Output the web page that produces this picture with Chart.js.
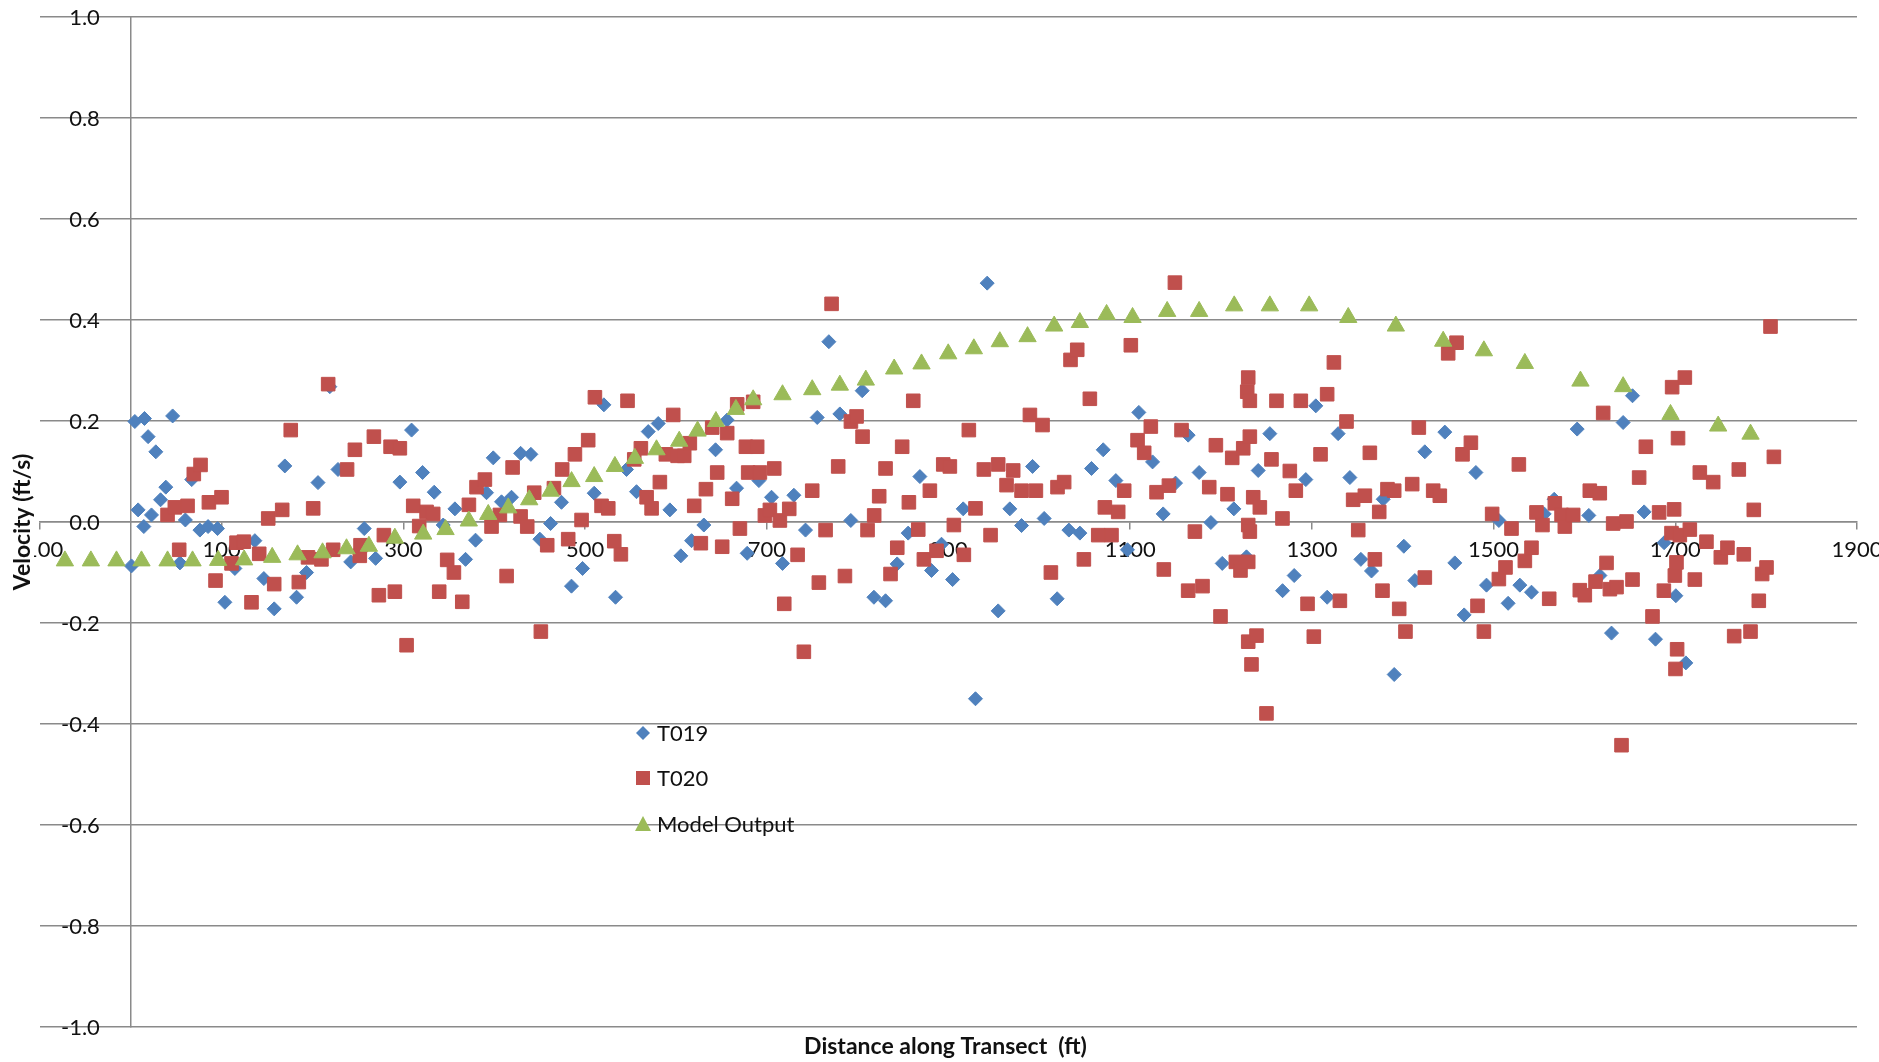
<!DOCTYPE html>
<html>
<head>
<meta charset="utf-8">
<title>Velocity along transect</title>
<script src="https://cdn.jsdelivr.net/npm/chart.js@4.4.1/dist/chart.umd.min.js"></script>
<style>
  html, body { margin: 0; padding: 0; background: #fff; }
  #wrap { width: 1879px; height: 1062px; }
</style>
</head>
<body>
<div id="wrap"><canvas id="chart" width="1879" height="1062"></canvas></div>
<script>
// values
const t019Dist = [0.7, 4.4, 8, 14.3, 15, 19, 22.7, 27.5, 32.7, 38.5, 46, 54, 60, 67, 76, 85, 95.4, 103.5, 114.5, 136.5,
  146.4, 157.8, 169.5, 182.4, 193.4, 206, 219, 228, 242, 256.9, 269.4, 296.1, 309, 321.1, 333.9, 343.8, 356.7, 368.4,
  379.4, 391.5, 398.9, 408, 419, 429, 440.3, 450.2, 462, 474, 485, 497.2, 510, 520.7, 533.5, 545.6, 556.6, 569.5,
  580.5, 593.3, 605.4, 617.2, 630.7, 643.6, 656.4, 666.7, 678.4, 691.3, 705.2, 717.3, 729.8, 742.6, 755.5, 768.3,
  780.4, 792.5, 805, 817.9, 830.7, 843.5, 855.6, 868.5, 881.3, 892.3, 904.5, 916.2, 929.7, 942.6, 954.7, 967.5,
  980.4, 992.5, 1005.3, 1019.6, 1032.5, 1044.6, 1057.4, 1070.3, 1084.2, 1097, 1109.5, 1124.6, 1136.3, 1149.9,
  1163.8, 1175.9, 1188.8, 1201.3, 1214.1, 1228, 1240.9, 1253.7, 1267.7, 1280.5, 1293.3, 1304.3, 1316.8, 1328.9,
  1341.8, 1353.9, 1365.6, 1378.5, 1390.6, 1401.2, 1413.3, 1424.3, 1446.3, 1457.3, 1467.6, 1480.5, 1492.2, 1505.8,
  1516, 1528.9, 1541.7, 1555.7, 1566.7, 1592, 1604.8, 1617, 1629.8, 1642.6, 1652.9, 1665.7, 1678.2, 1687.7,
  1700.6, 1711.6];
const t019Vel = [-0.087, 0.199, 0.024, -0.009, 0.205, 0.169, 0.014, 0.139, 0.044, 0.069, 0.21, -0.081, 0.004, 0.084,
  -0.016, -0.009, -0.013, -0.159, -0.092, -0.037, -0.112, -0.172, 0.111, -0.149, -0.1, 0.078, 0.268, 0.104, -0.079,
  -0.013, -0.072, 0.079, 0.182, 0.098, 0.059, -0.006, 0.026, -0.074, -0.036, 0.058, 0.127, 0.04, 0.049, 0.136,
  0.134, -0.034, -0.003, 0.039, -0.127, -0.092, 0.057, 0.232, -0.149, 0.104, 0.06, 0.179, 0.195, 0.024, -0.067,
  -0.037, -0.006, 0.143, 0.202, 0.067, -0.062, 0.082, 0.049, -0.082, 0.053, -0.016, 0.207, 0.357, 0.214, 0.003,
  0.26, -0.149, -0.156, -0.083, -0.022, 0.09, -0.096, -0.044, -0.114, 0.026, -0.35, 0.473, -0.176, 0.026, -0.007,
  0.11, 0.007, -0.152, -0.016, -0.022, 0.106, 0.143, 0.082, -0.055, 0.217, 0.119, 0.016, 0.077, 0.172, 0.098,
  -0.001, -0.082, 0.026, -0.069, 0.102, 0.175, -0.136, -0.106, 0.084, 0.23, -0.149, 0.175, 0.088, -0.074, -0.097,
  0.045, -0.302, -0.048, -0.116, 0.139, 0.178, -0.081, -0.184, 0.098, -0.125, 0.003, -0.161, -0.125, -0.139,
  0.016, 0.045, 0.184, 0.013, -0.106, -0.22, 0.197, 0.25, 0.02, -0.232, -0.041, -0.146, -0.279];

const t020Dist = [40.4, 48.4, 53.2, 62.4, 69.3, 76.7, 85.9, 93.2, 99.8, 110.8, 116.3, 124.4, 132.8, 141.3, 151.2,
  157.8, 166.6, 176, 184.9, 195, 200.7, 209.8, 217.2, 222.7, 238, 246.6, 252, 252.8, 267.5, 273, 278.5, 285.9,
  290.6, 296.1, 303.5, 310.8, 317.4, 325.5, 332.8, 339.4, 348.2, 355.6, 364.8, 372.1, 380.5, 389.7, 397, 406.2,
  413.6, 420.2, 429, 436.3, 444, 451.3, 458.3, 465.7, 474.8, 481.4, 488.8, 496.1, 503.4, 510.8, 518.1, 525.5,
  532.1, 539.4, 546.7, 554.1, 561.4, 567.7, 573.2, 582.3, 588.9, 597, 601.8, 609.1, 615.3, 620.1, 627.4, 633,
  639.9, 645.4, 650.9, 656.4, 661.9, 667.4, 670.4, 677, 679.5, 685, 689.4, 692.4, 697.9, 703.4, 708.2, 714.4,
  719.2, 724.7, 733.9, 740.8, 750, 757.3, 764.7, 771.3, 778.6, 786, 792.6, 798.8, 805.4, 810.9, 818.2, 823.7,
  830.7, 836.2, 843.6, 849, 856.4, 861.2, 866.7, 872.9, 879.5, 886.8, 894.2, 901.5, 905.9, 916.9, 922.4, 929.7,
  938.9, 946.3, 954.7, 963.9, 971.2, 980.4, 989.6, 996.2, 1003.5, 1012.7, 1020, 1027.3, 1034.3, 1041.7, 1049,
  1055.6, 1064.8, 1072.1, 1079.4, 1086.8, 1093.4, 1100.7, 1108.1, 1115.4, 1122.7, 1129, 1137, 1142.6, 1149.2,
  1156.5, 1163.8, 1171.2, 1179.6, 1187, 1194.3, 1199.4, 1207.1, 1212.3, 1216.3, 1221.4, 1224.4, 1228.8, 1229.9,
  1229.9, 1229.9, 1229.9, 1231.7, 1231.7, 1231.7, 1233.5, 1235.4, 1239, 1242.7, 1250, 1255.5, 1261, 1267.6,
  1275.7, 1282.3, 1287.8, 1295.2, 1302.1, 1309.5, 1316.8, 1324.2, 1330.8, 1338.1, 1345.4, 1351, 1358.3, 1363.8,
  1369.3, 1374.1, 1377.7, 1383.2, 1390.6, 1396.1, 1403, 1410.4, 1417.7, 1424.3, 1433.5, 1440.8, 1450, 1459.2,
  1465.8, 1475, 1482.3, 1489.3, 1498.4, 1505.8, 1513.1, 1519.7, 1527.8, 1534.4, 1541.7, 1547.2, 1553.8, 1561.2,
  1567.4, 1574.8, 1578.4, 1587.6, 1594.9, 1600.4, 1605.9, 1612.2, 1616.9, 1620.6, 1624.3, 1628, 1631.6, 1635.3,
  1640.8, 1646.3, 1652.9, 1660.2, 1667.6, 1674.9, 1682.2, 1687.4, 1695.8, 1696.5, 1698.7, 1699.5, 1700.2, 1701.3,
  1702, 1703, 1705, 1710.5, 1716, 1721.5, 1727, 1734.3, 1741.7, 1750.1, 1757.4, 1764.8, 1769.9, 1775.4, 1782.8,
  1786.4, 1791.9, 1795.6, 1800.4, 1804.8, 1808.5];
const t020Vel = [0.014, 0.029, -0.055, 0.032, 0.095, 0.113, 0.039, -0.116, 0.049, -0.082, -0.041, -0.039, -0.159,
  -0.063, 0.007, -0.123, 0.024, 0.182, -0.119, -0.07, 0.027, -0.074, 0.273, -0.055, 0.104, 0.143, -0.067, -0.046,
  0.169, -0.145, -0.026, 0.149, -0.138, 0.146, -0.244, 0.032, -0.008, 0.02, 0.016, -0.138, -0.075, -0.1, -0.158,
  0.034, 0.069, 0.084, -0.009, 0.014, -0.107, 0.108, 0.011, -0.009, 0.058, -0.217, -0.046, 0.067, 0.104, -0.034,
  0.134, 0.004, 0.162, 0.247, 0.032, 0.027, -0.038, -0.064, 0.24, 0.124, 0.146, 0.049, 0.027, 0.079, 0.134, 0.212,
  0.131, 0.131, 0.156, 0.032, -0.042, 0.065, 0.187, 0.098, -0.049, 0.176, 0.046, 0.233, -0.013, 0.149, 0.098,
  0.238, 0.149, 0.098, 0.013, 0.024, 0.106, 0.003, -0.162, 0.026, -0.065, -0.257, 0.062, -0.12, -0.016, 0.432,
  0.11, -0.107, 0.199, 0.209, 0.169, -0.016, 0.013, 0.051, 0.106, -0.103, -0.051, 0.149, 0.039, 0.24, -0.015,
  -0.074, 0.062, -0.057, 0.114, 0.11, -0.006, -0.065, 0.182, 0.027, 0.104, -0.026, 0.114, 0.073, 0.102, 0.062,
  0.212, 0.062, 0.192, -0.1, 0.069, 0.079, 0.321, 0.341, -0.074, 0.244, -0.026, 0.029, -0.026, 0.02, 0.062, 0.35,
  0.162, 0.137, 0.189, 0.059, -0.094, 0.072, 0.474, 0.182, -0.136, -0.019, -0.127, 0.069, 0.152, -0.187, 0.055,
  0.127, -0.079, -0.096, 0.146, 0.258, 0.286, -0.079, -0.006, -0.237, -0.019, 0.169, 0.24, -0.282, 0.049, -0.225,
  0.029, -0.379, 0.124, 0.24, 0.007, 0.101, 0.062, 0.24, -0.162, -0.227, 0.134, 0.253, 0.316, -0.156, 0.199,
  0.044, -0.016, 0.052, 0.137, -0.074, 0.02, -0.136, 0.065, 0.062, -0.172, -0.217, 0.075, 0.187, -0.11, 0.062,
  0.052, 0.334, 0.355, 0.134, 0.157, -0.166, -0.217, 0.016, -0.113, -0.09, -0.013, 0.114, -0.077, -0.051, 0.019,
  -0.006, -0.152, 0.037, 0.014, -0.009, 0.014, -0.135, -0.145, 0.062, -0.118, 0.057, 0.216, -0.081, -0.133,
  -0.003, -0.129, -0.442, 0.001, -0.114, 0.088, 0.149, -0.187, 0.019, -0.136, -0.022, 0.267, 0.025, -0.106,
  -0.291, -0.08, -0.252, 0.166, -0.026, 0.286, -0.015, -0.114, 0.098, -0.039, 0.079, -0.07, -0.051, -0.226, 0.104,
  -0.064, -0.217, 0.024, -0.156, -0.103, -0.09, 0.387, 0.129];

const modelDist = [-72.6, -44, -15.8, 11.7, 40.4, 67.9, 96.1, 124.7, 155.6, 183.5, 211, 237.4, 262, 290.6, 321.8,
  346.4, 372, 393.4, 415.4, 438.5, 462, 485.1, 510, 532.8, 554.8, 578.6, 603.6, 623.8, 644, 666, 685, 717.3, 750,
  780.4, 809, 840.2, 870.3, 899.7, 927.9, 956.5, 987, 1016.3, 1044.6, 1074, 1102.6, 1140.7, 1175.9, 1214.5,
  1253.7, 1297, 1340, 1392.4, 1444.5, 1489.3, 1534.4, 1595.6, 1642.6, 1694.7, 1747.2, 1782.8];
const modelVel = [-0.077, -0.077, -0.077, -0.077, -0.077, -0.077, -0.076, -0.075, -0.07, -0.065, -0.061, -0.053,
  -0.048, -0.032, -0.024, -0.015, 0.002, 0.015, 0.028, 0.044, 0.061, 0.08, 0.09, 0.11, 0.126, 0.143, 0.16, 0.18,
  0.199, 0.223, 0.242, 0.252, 0.262, 0.271, 0.281, 0.303, 0.313, 0.333, 0.343, 0.357, 0.367, 0.388, 0.395, 0.411,
  0.405, 0.417, 0.417, 0.428, 0.428, 0.428, 0.405, 0.388, 0.358, 0.339, 0.314, 0.279, 0.268, 0.213, 0.19, 0.174];

const seriesNames = ['T019', 'T020', 'Model Output'];
const xTitle = 'Distance along Transect  (ft)';
const yTitle = 'Velocity (ft/s)';

const toPoints = (xs, ys) => xs.map((x, i) => ({ x: x, y: ys[i] }));

const FONT = 'Lato, "Open Sans", sans-serif';
const gridColor = '#8a8a8a';
const textColor = '#111';

Chart.defaults.font.family = FONT;
Chart.defaults.color = textColor;

// scales placed at x=0 / y=0 should not eat into the layout
const noPad = (scale) => {
  scale.paddingLeft = 0;
  scale.paddingRight = 0;
  scale.paddingTop = 0;
  scale.paddingBottom = 0;
};

// y labels, legend and axis titles drawn by hand (legend sits inside the plot)
const extrasPlugin = {
  id: 'extras',
  afterDraw(chart) {
    const ctx = chart.ctx;
    const xs = chart.scales.x;
    const ys = chart.scales.y;
    ctx.save();

    // y tick labels, right aligned a bit left of the axis at x = 0
    ctx.font = '22px ' + FONT;
    ctx.fillStyle = textColor;
    ctx.textAlign = 'right';
    ctx.textBaseline = 'middle';
    const labelRight = xs.getPixelForValue(0) - 31;
    ys.ticks.forEach((t) => {
      ctx.fillText(Number(t.value).toFixed(1), labelRight, ys.getPixelForValue(t.value) + 1);
    });

    // y title, white box hides part of the -100 label like the original
    ctx.font = 'bold 23px ' + FONT;
    const yw = ctx.measureText(yTitle).width;
    const midY = (chart.chartArea.top + chart.chartArea.bottom) / 2;
    ctx.fillStyle = '#fff';
    ctx.fillRect(11, midY - yw / 2 - 2, 23, yw + 4);
    ctx.fillStyle = textColor;
    ctx.translate(23, midY);
    ctx.rotate(-Math.PI / 2);
    ctx.textAlign = 'center';
    ctx.textBaseline = 'middle';
    ctx.fillText(yTitle, 0, 0);
    ctx.setTransform(1, 0, 0, 1, 0, 0);

    const midX = (chart.chartArea.left + chart.chartArea.right) / 2;
    ctx.fillText(xTitle, midX - 3, 1047);

    // legend
    const lx = 643;
    const rows = [733, 778, 824];
    ctx.font = '22px ' + FONT;
    ctx.textAlign = 'left';
    chart.data.datasets.forEach((ds, i) => {
      const y = rows[i];
      ctx.fillStyle = ds.backgroundColor;
      ctx.beginPath();
      if (ds.pointStyle === 'rectRot') {
        ctx.moveTo(lx - 7, y); ctx.lineTo(lx, y - 7); ctx.lineTo(lx + 7, y); ctx.lineTo(lx, y + 7);
      } else if (ds.pointStyle === 'rect') {
        ctx.rect(lx - 7, y - 7, 14, 14);
      } else {
        ctx.moveTo(lx, y - 8); ctx.lineTo(lx + 8, y + 7); ctx.lineTo(lx - 8, y + 7);
      }
      ctx.closePath();
      ctx.fill();
      ctx.fillStyle = textColor;
      ctx.fillText(ds.label, 657, y + 1);
    });
    ctx.restore();
  }
};

new Chart(document.getElementById('chart'), {
  type: 'scatter',
  data: {
    datasets: [
      {
        label: seriesNames[0],
        data: toPoints(t019Dist, t019Vel),
        pointStyle: 'rectRot',
        pointRadius: 7,
        backgroundColor: '#4F81BD',
        borderColor: '#4F81BD',
        borderWidth: 1,
        order: 2
      },
      {
        label: seriesNames[1],
        data: toPoints(t020Dist, t020Vel),
        pointStyle: 'rect',
        pointRadius: 9.6,
        backgroundColor: '#C0504D',
        borderColor: '#C0504D',
        borderWidth: 1,
        order: 1
      },
      {
        label: seriesNames[2],
        data: toPoints(modelDist, modelVel),
        pointStyle: 'triangle',
        pointRadius: 10,
        backgroundColor: '#9BBB59',
        borderColor: '#9BBB59',
        borderWidth: 1,
        order: 0
      }
    ]
  },
  options: {
    responsive: false,
    animation: false,
    layout: { padding: { left: 40, right: 22, top: 17, bottom: 35 } },
    plugins: {
      legend: { display: false },
      tooltip: { enabled: false }
    },
    scales: {
      x: {
        type: 'linear',
        position: { y: 0 },
        min: -100,
        max: 1900,
        afterFit: noPad,
        ticks: {
          stepSize: 200,
          padding: 8,
          maxRotation: 0,
          font: { size: 22 },
          color: textColor,
          callback: (v) => String(v)
        },
        grid: { drawOnChartArea: false, drawTicks: true, tickLength: 7, color: gridColor, lineWidth: 1.5 },
        border: { display: true, color: gridColor, width: 1.5 }
      },
      y: {
        type: 'linear',
        position: { x: 0 },
        min: -1,
        max: 1,
        afterFit: noPad,
        ticks: {
          stepSize: 0.2,
          display: false
        },
        grid: { drawTicks: false, color: gridColor, lineWidth: 1.5 },
        border: { display: true, color: gridColor, width: 1.5 }
      }
    }
  },
  plugins: [extrasPlugin]
});
</script>
</body>
</html>
